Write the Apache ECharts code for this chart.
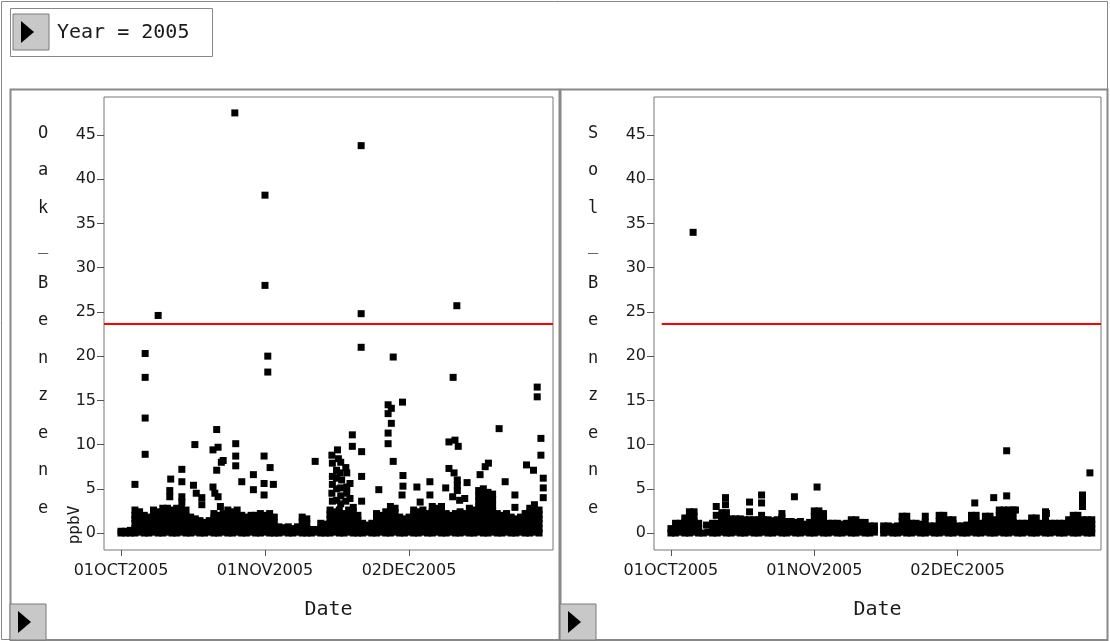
<!DOCTYPE html>
<html>
<head>
<meta charset="utf-8">
<title>Benzene 2005</title>
<script src="https://cdn.jsdelivr.net/npm/echarts@6/dist/echarts.min.js"></script>
<style>
html, body { margin: 0; padding: 0; background: #fff; }
#chart { width: 1110px; height: 641px; }
</style>
</head>
<body>
<div id="chart"></div>
<script>
// x values are days counted from 01OCT2005
const tickDays = [0, 31, 62]
const tickLabels = ['01OCT2005', '01NOV2005', '02DEC2005']
const yTicks = [0, 5, 10, 15, 20, 25, 30, 35, 40, 45]
const limitPpbv = 23.7

// Oak_Benzene, readings of each day (index = day) in the dense low band
const oakDaily = [
	[0, 0.2], [0, 0.2], [0, 0.3], [0, 0.5, 1.1, 1.6, 2.0, 2.6], [0.1, 0.6, 1.2, 1.8, 2.4],
	[0, 0.5, 1.0, 1.5, 2.0], [0, 0.6, 1.2, 1.8], [0.1, 0.6, 1.2, 1.7, 2.2, 2.6], [0, 0.5, 1.1, 1.7, 2.4], [0, 0.6, 1.1, 1.6, 2.2, 2.8],
	[0.1, 0.5, 1.0, 1.6, 2.2, 2.8], [0, 0.6, 1.2, 1.9, 2.6], [0, 0.5, 1.1, 1.7, 2.3, 2.8], [0.1, 0.6, 1.2, 1.8, 2.3, 2.8], [0, 0.6, 1.3, 1.9, 2.6],
	[0, 0.6, 1.2, 1.8], [0.1, 0.6, 1.1, 1.6], [0, 0.5, 1.0, 1.4], [0, 0.6, 1.2], [0.1, 0.7, 1.4],
	[0, 0.5, 1.1, 1.7, 2.2], [0, 0.6, 1.3, 2.0], [0.1, 0.7, 1.2, 1.7, 2.2], [0, 0.5, 1.0, 1.6, 2.1, 2.6], [0, 0.6, 1.2, 1.8, 2.4],
	[0.1, 0.6, 1.2, 1.9, 2.6], [0, 0.6, 1.3, 2.0], [0, 0.6, 1.2, 1.8], [0.1, 0.7, 1.4, 2.0], [0, 0.5, 1.1, 1.6, 2.0],
	[0, 0.6, 1.2, 1.7, 2.2], [0.1, 0.7, 1.3, 2.0], [0, 0.5, 1.0, 1.6, 2.2], [0, 0.6, 1.2, 1.8], [0, 0.7],
	[0.1, 0.6], [0, 0.7], [0, 0.5], [0.1, 0.7], [0, 0.6, 1.2, 1.8],
	[0, 0.5, 1.0, 1.6], [0, 0.4], [0.1, 0.4], [0, 0.5, 1.1], [0, 0.4, 1.0],
	[0, 0.5, 1.1, 1.6, 2.1, 2.6], [0.1, 0.6, 1.2, 1.8, 2.4], [0, 0.6, 1.1, 1.6, 2.1, 2.6], [0, 0.6, 1.2, 1.7, 2.2], [0.1, 0.6, 1.2, 1.9, 2.6],
	[0, 0.5, 1.1, 1.8, 2.4], [0, 0.7, 1.4, 2.0], [0, 0.5, 1.1], [0.1, 0.4, 0.9], [0, 0.6, 1.1],
	[0, 0.6, 1.2, 1.7, 2.2], [0.1, 0.7, 1.3, 2.0], [0, 0.5, 1.1, 1.8, 2.4], [0, 0.6, 1.2, 1.8, 2.4, 3.0], [0.1, 0.6, 1.1, 1.7, 2.3, 2.8],
	[0, 0.6, 1.2, 1.8], [0, 0.5, 1.0, 1.6], [0.1, 0.7, 1.3, 1.8], [0, 0.5, 1.0, 1.5, 2.1, 2.6], [0, 0.6, 1.2, 1.8, 2.4],
	[0.1, 0.6, 1.2, 1.9, 2.6], [0, 0.5, 1.1, 1.7, 2.2], [0, 0.6, 1.2, 1.8, 2.4, 3.0], [0.1, 0.6, 1.1, 1.7, 2.3, 2.8], [0, 0.5, 1.1, 1.8, 2.4, 3.0],
	[0, 0.6, 1.2, 1.7, 2.2], [0.1, 0.7, 1.3, 2.0], [0, 0.5, 1.1, 1.6, 2.2], [0, 0.6, 1.2, 1.8, 2.4], [0.1, 0.6, 1.2, 1.7, 2.2],
	[0, 0.5, 1.1, 1.7, 2.3, 2.8], [0, 0.6, 1.2, 1.9, 2.6], [0.1, 0.6, 1.2, 1.8, 2.4, 3.0, 3.6, 4.2, 4.8], [0, 0.5, 1.1, 1.7, 2.3, 2.9, 3.5, 4.1, 4.6, 5.0], [0, 0.6, 1.2, 1.8, 2.3, 2.9, 3.4, 4.0, 4.6],
	[0.1, 0.7, 1.3, 1.9, 2.5, 3.1, 3.8, 4.4], [0, 0.6, 1.1, 1.7, 2.2], [0, 0.5, 1.0, 1.5, 2.0], [0.1, 0.6, 1.2, 1.7, 2.2], [0, 0.6, 1.2, 1.8],
	[0, 0.5, 1.1, 1.6], [0.1, 0.6, 1.2, 1.8], [0, 0.5, 1.1, 1.7, 2.2], [0, 0.6, 1.2, 1.7, 2.3, 2.8], [0.1, 0.6, 1.2, 1.9, 2.5, 3.2],
	[0, 0.5, 1.1, 1.6, 2.1, 2.6],
]

// Oak_Benzene, readings standing above the band: [day, ppbV]
const oakPeaks = [
	[3.0, 5.5], [5.2, 20.3], [5.2, 17.6], [5.2, 13.0], [5.2, 8.9], [8.0, 24.6],
	[10.7, 6.1], [10.5, 4.8], [10.5, 4.1], [13.1, 7.2], [13.1, 5.8], [13.1, 4.1], [13.1, 3.5],
	[15.6, 5.4], [15.9, 10.0], [16.2, 4.5], [17.4, 4.0], [17.4, 3.2],
	[19.8, 9.4], [19.8, 5.2], [20.2, 4.5], [20.6, 11.7], [20.6, 7.1], [20.9, 9.7], [20.9, 4.1], [21.4, 3.0], [21.6, 8.0], [22.0, 8.2],
	[24.5, 47.5], [24.7, 10.1], [24.7, 8.7], [24.7, 7.6], [26.0, 5.8], [28.5, 6.6], [28.5, 4.9],
	[30.8, 8.7], [30.8, 5.6], [30.8, 4.3], [31.0, 38.2], [31.0, 28.0], [31.6, 20.0], [31.6, 18.2], [32.1, 7.4], [32.8, 5.5],
	[41.8, 8.1],
	[45.4, 8.8], [45.5, 7.9], [45.5, 6.4], [45.5, 5.5], [45.4, 4.5], [45.5, 3.6],
	[46.6, 9.4], [46.8, 8.4], [46.4, 7.1], [46.4, 6.2], [46.4, 5.0], [46.4, 3.7],
	[47.3, 8.0], [47.1, 6.8], [47.5, 6.0], [47.3, 5.1], [47.3, 4.2], [47.3, 3.3],
	[48.4, 7.4], [48.6, 6.8], [48.6, 5.2], [48.6, 4.5], [48.4, 3.6], [49.3, 5.6], [49.3, 3.9], [50.0, 2.9],
	[49.8, 11.1], [49.8, 9.8], [51.7, 43.8], [51.7, 24.8], [51.7, 21.0], [51.8, 9.2], [51.8, 6.4], [51.8, 3.6],
	[55.5, 4.9], [57.5, 14.5], [58.2, 14.1], [57.5, 13.5], [58.2, 12.4], [57.5, 11.3], [57.5, 10.1], [58.6, 8.1], [58.6, 19.9],
	[60.6, 14.8], [60.7, 6.5], [60.7, 5.3], [60.5, 4.3], [63.7, 5.2], [64.4, 3.5], [66.5, 5.8], [66.5, 4.3],
	[69.9, 5.1], [70.6, 10.3], [70.6, 7.3], [71.5, 17.6], [71.4, 4.1], [71.9, 10.5], [71.7, 6.8], [72.3, 25.7],
	[72.4, 6.0], [72.4, 5.4], [72.4, 4.8], [72.6, 9.8], [72.9, 3.7], [74.0, 3.9], [74.5, 5.7],
	[77.3, 6.6], [78.4, 7.5], [79.1, 7.9], [81.4, 11.8], [82.7, 5.8], [84.8, 4.3], [84.8, 2.9],
	[87.3, 7.7], [88.8, 7.1], [89.6, 16.5], [89.6, 15.4], [90.4, 10.7], [90.4, 8.8],
	[90.9, 6.2], [90.9, 5.1], [90.9, 4.0],
]

// Sol_Benzene, readings of each day (index = day) in the dense low band
const solDaily = [
	[0, 0.5], [0, 0.5, 1.1], [0.1, 0.6, 1.1], [0, 0.6, 1.2, 1.7], [0, 0.6, 1.2, 1.8, 2.4],
	[0.1, 0.7, 1.3, 1.9, 2.4], [0, 0.5, 1.1], [0], [0.1], [0, 0.6, 1.1],
	[0, 0.5, 1.1], [0.1, 0.6, 1.2, 1.8, 2.3], [0, 0.6, 1.1, 1.7, 2.3], [0, 0.5, 1.0, 1.6], [0.1, 0.6, 1.1, 1.6],
	[0, 0.6, 1.2, 1.6], [0, 0.5, 1.0, 1.5], [0.1, 0.5, 1.0, 1.5], [0, 0.6, 1.1, 1.5], [0, 0.5, 1.0, 1.5],
	[0.1, 0.6, 1.0, 1.5], [0, 0.5, 1.1, 1.5], [0, 0.6, 1.0, 1.4], [0.1, 0.5, 1.0, 1.5], [0, 0.6, 1.2, 1.7, 2.2],
	[0, 0.6, 1.3], [0.1, 0.7, 1.3], [0, 0.6, 1.2], [0, 0.7, 1.3], [0.1, 0.5, 1.0],
	[0, 0.6, 1.2], [0, 0.6, 1.2, 1.9, 2.5], [0.1, 0.6, 1.3, 1.9, 2.5], [0, 0.6, 1.1, 1.7, 2.2], [0, 0.5, 1.1],
	[0.1, 0.6, 1.1], [0, 0.5, 1.1], [0, 0.5, 1.0], [0.1, 0.6, 1.1], [0, 0.5, 1.0, 1.5],
	[0, 0.6, 1.1, 1.5], [0.1, 0.6, 1.2], [0, 0.6, 1.2], [0, 0.4, 0.8], [0.1, 0.4, 0.8],
	[], [0, 0.4, 0.8], [0.1, 0.5, 0.8], [0, 0.4, 0.7], [0, 0.4, 0.8],
	[0.1, 0.7, 1.3, 1.9], [0, 0.6, 1.2, 1.9], [0, 0.5, 1.1], [0.1, 0.6, 1.1], [0, 0.5, 1.0],
	[0, 0.6, 1.2, 1.9], [0.1, 0.4, 0.8], [0, 0.4, 0.8], [0, 0.7, 1.3, 2.0], [0.1, 0.6, 1.3, 2.0],
	[0, 0.5, 1.0, 1.5], [0, 0.6, 1.1, 1.5], [0.1, 0.4, 0.8], [0, 0.4, 0.8], [0, 0.5, 0.9],
	[0.1, 0.7, 1.3, 2.0], [0, 0.6, 1.3, 2.0], [0, 0.6, 1.1], [0.1, 0.6, 1.2, 1.9], [0, 0.7, 1.3, 1.9],
	[0, 0.5, 1.0, 1.5], [0.1, 0.6, 1.3, 2.0, 2.6], [0, 0.7, 1.3, 2.0, 2.6], [0, 0.6, 1.2, 1.9, 2.6], [0.1, 0.6, 1.2, 1.9, 2.6],
	[0, 0.6, 1.1], [0, 0.5, 1.1], [0.1, 0.6, 1.1], [0, 0.6, 1.2, 1.7], [0, 0.6, 1.1, 1.7],
	[0.1, 0.6, 1.1], [0, 0.6, 1.2, 1.8, 2.4], [0, 0.5, 1.1], [0.1, 0.6, 1.1], [0, 0.5, 1.1],
	[0, 0.6, 1.1], [0.1, 0.5, 1.0, 1.5], [0, 0.7, 1.3, 2.0], [0, 0.6, 1.3, 2.0], [0.1, 0.5, 1.0, 1.5],
	[0, 0.6, 1.1, 1.5], [0, 0.5, 1.0, 1.5],
]

// Sol_Benzene, readings standing above the band: [day, ppbV]
const solPeaks = [
	[4.8, 34.0], [7.7, 0.9], [9.8, 3.0], [9.8, 2.0], [11.8, 4.0], [11.8, 3.2],
	[17.0, 3.5], [17.0, 2.4], [19.6, 4.3], [19.6, 3.4], [19.6, 2.0], [26.7, 4.1], [31.6, 5.2],
	[65.7, 3.4], [69.8, 4.0], [72.6, 9.3], [72.6, 4.2], [74.5, 2.6], [81.2, 2.2],
	[89.0, 4.3], [89.0, 3.6], [89.0, 3.0], [90.6, 6.8],
]

const xMin = -3.66
const xMax = 93.0
const yMin = -1.92
const yMax = 49.3
const mono = 'DejaVu Sans Mono'
const sans = 'DejaVu Sans'

function toPoints(daily, peaks) {
	let pts = []
	daily.forEach((vals, day) => {
		vals.forEach((v) => pts.push([day, v]))
	})
	return pts.concat(peaks)
}

function xAxisFor(gridIndex) {
	return {
		gridIndex: gridIndex,
		type: 'value',
		min: xMin,
		max: xMax,
		axisLine: { show: false, onZero: false },
		splitLine: { show: false },
		axisTick: { show: true, customValues: tickDays, length: 6, lineStyle: { color: '#555' } },
		axisLabel: {
			customValues: tickDays,
			formatter: (v) => tickLabels[tickDays.indexOf(v)],
			margin: 13,
			fontFamily: sans,
			fontSize: 16,
			color: '#1a1a1a',
		},
		name: 'Date',
		nameLocation: 'middle',
		nameGap: 50,
		nameTextStyle: { fontFamily: mono, fontSize: 20, color: '#1a1a1a' },
	}
}

function yAxisFor(gridIndex) {
	return {
		gridIndex: gridIndex,
		type: 'value',
		min: yMin,
		max: yMax,
		axisLine: { show: false, onZero: false },
		splitLine: { show: false },
		axisTick: { show: true, customValues: yTicks, length: 7, lineStyle: { color: '#555' } },
		axisLabel: {
			customValues: yTicks,
			margin: 8,
			fontFamily: sans,
			fontSize: 16,
			color: '#1a1a1a',
		},
	}
}

function seriesFor(idx, points, lineStart) {
	return {
		type: 'scatter',
		xAxisIndex: idx,
		yAxisIndex: idx,
		symbol: 'rect',
		symbolSize: 7,
		itemStyle: { color: '#000', opacity: 1 },
		data: points,
		markLine: {
			silent: true,
			symbol: 'none',
			label: { show: false },
			lineStyle: { color: '#ff0000', width: 2, type: 'solid' },
			data: [[{ coord: [lineStart, limitPpbv] }, { coord: [xMax, limitPpbv] }]],
		},
	}
}

function button(x, y) {
	return [
		{ type: 'rect', shape: { x: x, y: y, width: 36, height: 36 }, style: { fill: '#c8c8c8', stroke: '#7a7a7a', lineWidth: 1 } },
		{ type: 'polygon', shape: { points: [[x + 8, y + 7], [x + 8, y + 29], [x + 21, y + 18]] }, style: { fill: '#000' } },
	]
}

const chart = echarts.init(document.getElementById('chart'))

const option = {
	animation: false,
	backgroundColor: '#ffffff',
	grid: [
		{ left: 104, top: 97, width: 449, height: 453, show: true, backgroundColor: '#fff', borderColor: '#777', borderWidth: 1 },
		{ left: 654, top: 97, width: 447, height: 453, show: true, backgroundColor: '#fff', borderColor: '#777', borderWidth: 1 },
	],
	xAxis: [xAxisFor(0), xAxisFor(1)],
	yAxis: [yAxisFor(0), yAxisFor(1)],
	series: [
		seriesFor(0, toPoints(oakDaily, oakPeaks), xMin),
		seriesFor(1, toPoints(solDaily, solPeaks), -2.0),
	],
	graphic: [
		// outer frame and panel frames
		{ type: 'rect', shape: { x: 1.5, y: 1.5, width: 1106, height: 638 }, style: { fill: 'none', stroke: '#888', lineWidth: 1 } },
		{ type: 'rect', shape: { x: 10.5, y: 89.5, width: 549, height: 551 }, style: { fill: 'none', stroke: '#888', lineWidth: 2 } },
		{ type: 'rect', shape: { x: 560.5, y: 89.5, width: 547, height: 551 }, style: { fill: 'none', stroke: '#888', lineWidth: 2 } },
		// Year box
		{ type: 'rect', shape: { x: 10.5, y: 8.5, width: 202, height: 48 }, style: { fill: '#fff', stroke: '#888', lineWidth: 1 } },
		...button(13, 14),
		{ type: 'text', x: 57, y: 33, style: { text: 'Year = 2005', fontFamily: mono, fontSize: 20, fill: '#1a1a1a', textVerticalAlign: 'middle' } },
		// vertical axis titles
		{ type: 'text', x: 43, y: 321, style: { text: 'O\na\nk\n_\nB\ne\nn\nz\ne\nn\ne', fontFamily: mono, fontSize: 17, lineHeight: 37.5, fill: '#1a1a1a', align: 'center', verticalAlign: 'middle' } },
		{ type: 'text', x: 593, y: 321, style: { text: 'S\no\nl\n_\nB\ne\nn\nz\ne\nn\ne', fontFamily: mono, fontSize: 17, lineHeight: 37.5, fill: '#1a1a1a', align: 'center', verticalAlign: 'middle' } },
		{ type: 'text', x: 75, y: 525, rotation: Math.PI / 2, style: { text: 'ppbV', fontFamily: mono, fontSize: 16, fill: '#1a1a1a', align: 'center', verticalAlign: 'middle' } },
		// bottom buttons
		...button(10, 604),
		...button(560, 604),
	],
}

chart.setOption(option)
window.addEventListener('resize', chart.resize)
</script>
</body>
</html>
